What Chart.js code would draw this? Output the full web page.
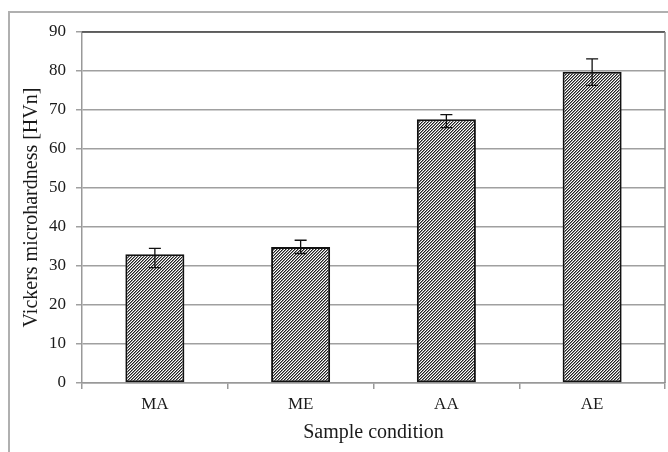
<!DOCTYPE html>
<html>
<head>
<meta charset="utf-8">
<script src="https://cdn.jsdelivr.net/npm/chart.js@4"></script>
<style>
  html, body { margin: 0; padding: 0; background: #fff; }
  #wrap { width: 668px; height: 452px; }
</style>
</head>
<body>
<div id="wrap"><canvas id="hardness" width="668" height="452"></canvas></div>
<script>
const conditions = ["MA", "ME", "AA", "AE"];
const hardness = [33, 34.9, 67.6, 79.8];
const errHigh = [34.5, 36.6, 68.8, 83.1];
const errLow = [29.6, 33.2, 65.5, 76.3];
const yTicks = [0, 10, 20, 30, 40, 50, 60, 70, 80, 90];

// hatch fill ///
function hatch() {
  const c = document.createElement("canvas");
  c.width = 3; c.height = 3;
  const g = c.getContext("2d");
  const shades = ["#222", "#8a8a8a", "#fff"];
  for (let x = 0; x < 3; x++) {
    for (let y = 0; y < 3; y++) {
      g.fillStyle = shades[(x + y) % 3];
      g.fillRect(x, y, 1, 1);
    }
  }
  return g.createPattern(c, "repeat");
}

const extras = {
  id: "extras",
  beforeDraw(chart) {
    const ctx = chart.ctx;
    ctx.save();
    ctx.strokeStyle = "#b0b0b0";
    ctx.lineWidth = 2;
    ctx.strokeRect(9, 12, 720, 520);
    ctx.restore();
  },
  afterDatasetsDraw(chart) {
    const ctx = chart.ctx;
    const meta = chart.getDatasetMeta(0);
    const y = chart.scales.y;
    ctx.save();
    ctx.strokeStyle = "#111";
    ctx.lineWidth = 1.3;
    meta.data.forEach((bar, i) => {
      const hi = y.getPixelForValue(errHigh[i]);
      const lo = y.getPixelForValue(errLow[i]);
      ctx.beginPath();
      ctx.moveTo(bar.x, hi); ctx.lineTo(bar.x, lo);
      ctx.moveTo(bar.x - 6, hi); ctx.lineTo(bar.x + 6, hi);
      ctx.moveTo(bar.x - 6, lo); ctx.lineTo(bar.x + 6, lo);
      ctx.stroke();
    });
    // plot frame top and right
    const a = chart.chartArea;
    ctx.strokeStyle = "#444";
    ctx.lineWidth = 1.5;
    ctx.beginPath();
    ctx.moveTo(a.left, a.top); ctx.lineTo(a.right, a.top);
    ctx.stroke();
    ctx.strokeStyle = "#888";
    ctx.beginPath();
    ctx.moveTo(a.right, a.top); ctx.lineTo(a.right, a.bottom);
    ctx.stroke();
    ctx.restore();
  }
};

new Chart(document.getElementById("hardness"), {
  type: "bar",
  plugins: [extras],
  data: {
    labels: conditions,
    datasets: [{
      data: hardness,
      backgroundColor: hatch(),
      borderColor: "#111",
      borderWidth: 2,
      borderSkipped: false,
      barPercentage: 0.81,
      categoryPercentage: 0.5
    }]
  },
  options: {
    responsive: false,
    animation: false,
    layout: { padding: { left: 10, right: 3, top: 32, bottom: 0 } },
    plugins: { legend: { display: false }, tooltip: { enabled: false } },
    scales: {
      x: {
        grid: { display: true, drawOnChartArea: false, color: "#999", tickLength: 6, lineWidth: 1.5 },
        border: { color: "#999", width: 1.5 },
        ticks: { color: "#1a1a1a", font: { family: "Liberation Serif", size: 17 }, padding: 5 },
        title: { display: true, text: "Sample condition", color: "#1a1a1a", font: { family: "Liberation Serif", size: 20 }, padding: { top: 4, bottom: 7 } },
        afterFit(s) { s.height = 69; }
      },
      y: {
        min: 0,
        max: 90,
        afterBuildTicks(s) { s.ticks = yTicks.map(v => ({ value: v })); },
        grid: { color: "#a0a0a0", lineWidth: 1.5, tickLength: 6 },
        border: { color: "#999", width: 1.5 },
        ticks: { color: "#1a1a1a", font: { family: "Liberation Serif", size: 17 }, padding: 10 },
        title: { display: true, text: "Vickers microhardness [HVn]", color: "#1a1a1a", font: { family: "Liberation Serif", size: 20 }, padding: { top: 10, bottom: 4 } },
        afterFit(s) { s.width = 72; }
      }
    }
  }
});
</script>
</body>
</html>
